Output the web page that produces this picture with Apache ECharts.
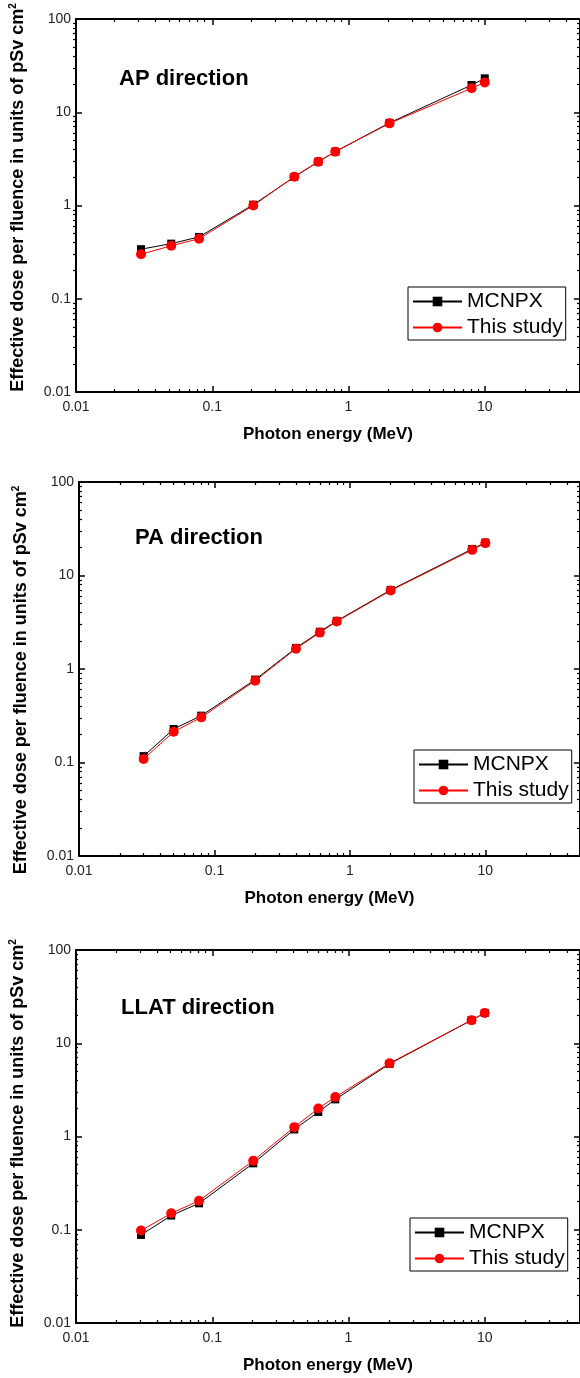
<!DOCTYPE html>
<html>
<head>
<meta charset="utf-8">
<script src="https://cdn.jsdelivr.net/npm/echarts@6/dist/echarts.min.js"></script>
<style>
  html, body { margin: 0; padding: 0; background: #fff; }
  #chart { width: 580px; height: 1378px; }
</style>
</head>
<body>
<div id="chart"></div>
<script>
const energies = [0.03, 0.05, 0.08, 0.2, 0.4, 0.6, 0.8, 2, 8, 10]

const apMcnpx = [0.34, 0.39, 0.46, 1.02, 2.02, 2.95, 3.78, 7.7, 19.6, 23.1]
const apStudy = [0.30, 0.37, 0.44, 1.0, 2.04, 2.95, 3.78, 7.6, 18.1, 20.9]
const paMcnpx = [0.117, 0.228, 0.317, 0.77, 1.68, 2.5, 3.27, 7.0, 19.2, 22.5]
const paStudy = [0.109, 0.213, 0.304, 0.75, 1.65, 2.45, 3.22, 6.9, 18.8, 22.2]
const llatMcnpx = [0.088, 0.142, 0.192, 0.515, 1.19, 1.83, 2.5, 6.0, 17.7, 21.1]
const llatStudy = [0.098, 0.150, 0.205, 0.55, 1.26, 2.0, 2.65, 6.1, 17.7, 21.1]

const xMajor = [0.01, 0.1, 1, 10]
const xMinor = [0.02, 0.03, 0.04, 0.05, 0.06, 0.07, 0.08, 0.09, 0.2, 0.3, 0.4, 0.5, 0.6, 0.7, 0.8, 0.9,
  2, 3, 4, 5, 6, 7, 8, 9, 20, 30, 40]
const yMajor = [0.01, 0.1, 1, 10, 100]
const yMinor = [0.02, 0.03, 0.04, 0.05, 0.06, 0.07, 0.08, 0.09, 0.2, 0.3, 0.4, 0.5, 0.6, 0.7, 0.8, 0.9,
  2, 3, 4, 5, 6, 7, 8, 9, 20, 30, 40, 50, 60, 70, 80, 90]

const seriesNames = ['MCNPX', 'This study']

const FONT = 'Liberation Sans, Arial, sans-serif'

// one entry per panel: plot box, label, legend spot, y-title padding, data
const panels = [
  { left: 73, top: 19, width: 507, height: 373, label: 'AP direction', labelPos: [119, 68],
    legendPos: [408, 287], namePad: [0, 0, 0, 16], mcnpx: apMcnpx, study: apStudy },
  { left: 79, top: 482, width: 507, height: 374, label: 'PA direction', labelPos: [135, 527],
    legendPos: [414, 750], namePad: [0, 22, 0, 0], mcnpx: paMcnpx, study: paStudy },
  { left: 75, top: 950, width: 506, height: 373, label: 'LLAT direction', labelPos: [121, 997],
    legendPos: [410, 1218], namePad: [0, 0, 0, 6], mcnpx: llatMcnpx, study: llatStudy }
]

const grids = []
const xAxes = []
const yAxes = []
const series = []
const titles = []
const legends = []

const lineStyle = { color: '#000', width: 2 }

panels.forEach((p, i) => {
  const box = { left: p.left, top: p.top, width: p.width, height: p.height }
  grids.push(Object.assign({}, box))   // main grid, index 2i
  grids.push(Object.assign({}, box))   // minor-tick grid, index 2i+1
  const g = 2 * i
  const gm = 2 * i + 1

  xAxes.push({
    type: 'log', gridIndex: g, position: 'bottom', min: 0.01, max: 50, logBase: 10,
    axisLine: { lineStyle: lineStyle },
    axisTick: { inside: true, length: 6, customValues: xMajor, lineStyle: { color: '#000', width: 1.5 } },
    axisLabel: { customValues: xMajor, fontSize: 14, color: '#222', margin: 8, fontFamily: FONT,
      formatter: v => String(v) },
    splitLine: { show: false },
    name: 'Photon energy (MeV)', nameLocation: 'middle', nameGap: 34,
    nameTextStyle: { fontSize: 17, fontWeight: 'bold', color: '#000', fontFamily: FONT }
  })
  xAxes.push({
    type: 'log', gridIndex: g, position: 'top', min: 0.01, max: 50, logBase: 10,
    axisLine: { lineStyle: lineStyle },
    axisTick: { inside: true, length: 6, customValues: xMajor, lineStyle: { color: '#000', width: 1.5 } },
    axisLabel: { show: false }, splitLine: { show: false }
  })
  xAxes.push({
    type: 'log', gridIndex: gm, position: 'bottom', min: 0.01, max: 50, logBase: 10,
    axisLine: { show: false },
    axisTick: { inside: true, length: 3, customValues: xMinor, lineStyle: { color: '#000', width: 1.2 } },
    axisLabel: { show: false }, splitLine: { show: false }
  })
  xAxes.push({
    type: 'log', gridIndex: gm, position: 'top', min: 0.01, max: 50, logBase: 10,
    axisLine: { show: false },
    axisTick: { inside: true, length: 3, customValues: xMinor, lineStyle: { color: '#000', width: 1.2 } },
    axisLabel: { show: false }, splitLine: { show: false }
  })

  yAxes.push({
    type: 'log', gridIndex: g, position: 'left', min: 0.01, max: 100, logBase: 10,
    axisLine: { lineStyle: lineStyle },
    axisTick: { inside: true, length: 6, customValues: yMajor, lineStyle: { color: '#000', width: 1.5 } },
    axisLabel: { customValues: yMajor, fontSize: 14, color: '#222', margin: 5, fontFamily: FONT,
      formatter: v => String(v) },
    splitLine: { show: false },
    name: '{a|Effective dose per fluence in units of pSv cm}{s|2}',
    nameLocation: 'middle', nameGap: 47,
    nameTextStyle: {
      fontFamily: FONT,
      padding: p.namePad,
      rich: {
        a: { fontSize: 18, fontWeight: 'bold', color: '#000', fontFamily: FONT, lineHeight: 21 },
        s: { fontSize: 10, fontWeight: 'bold', color: '#000', fontFamily: FONT, verticalAlign: 'top', lineHeight: 21 }
      }
    }
  })
  yAxes.push({
    type: 'log', gridIndex: g, position: 'right', min: 0.01, max: 100, logBase: 10,
    axisLine: { lineStyle: lineStyle },
    axisTick: { inside: true, length: 6, customValues: yMajor, lineStyle: { color: '#000', width: 1.5 } },
    axisLabel: { show: false }, splitLine: { show: false }
  })
  yAxes.push({
    type: 'log', gridIndex: gm, position: 'left', min: 0.01, max: 100, logBase: 10,
    axisLine: { show: false },
    axisTick: { inside: true, length: 3, customValues: yMinor, lineStyle: { color: '#000', width: 1.2 } },
    axisLabel: { show: false }, splitLine: { show: false }
  })
  yAxes.push({
    type: 'log', gridIndex: gm, position: 'right', min: 0.01, max: 100, logBase: 10,
    axisLine: { show: false },
    axisTick: { inside: true, length: 3, customValues: yMinor, lineStyle: { color: '#000', width: 1.2 } },
    axisLabel: { show: false }, splitLine: { show: false }
  })

  series.push({
    name: seriesNames[0], type: 'line', xAxisIndex: 4 * i, yAxisIndex: 4 * i,
    data: energies.map((e, k) => [e, p.mcnpx[k]]),
    symbol: 'rect', symbolSize: 8, color: '#000',
    lineStyle: { color: '#000', width: 1 }, itemStyle: { color: '#000' }
  })
  series.push({
    name: seriesNames[1], type: 'line', xAxisIndex: 4 * i, yAxisIndex: 4 * i,
    data: energies.map((e, k) => [e, p.study[k]]),
    symbol: 'circle', symbolSize: 10, color: '#ff0000',
    lineStyle: { color: '#ff0000', width: 1 }, itemStyle: { color: '#ff0000' }
  })

  titles.push({
    text: p.label, left: p.labelPos[0], top: p.labelPos[1], padding: 0,
    textStyle: { fontSize: 22, fontWeight: 'bold', color: '#000', fontFamily: FONT }
  })

  legends.push({
    data: seriesNames, orient: 'vertical', left: p.legendPos[0], top: p.legendPos[1],
    padding: [4, 3, 2, 4], itemGap: 5, itemWidth: 49, itemHeight: 12,
    borderColor: '#000', borderWidth: 1, backgroundColor: '#fff',
    selectedMode: false,
    textStyle: { fontSize: 21, color: '#000', fontFamily: FONT }
  })
})

const chart = echarts.init(document.getElementById('chart'))
chart.setOption({
  animation: false,
  backgroundColor: '#fff',
  title: titles,
  legend: legends,
  grid: grids,
  xAxis: xAxes,
  yAxis: yAxes,
  series: series
})
</script>
</body>
</html>
